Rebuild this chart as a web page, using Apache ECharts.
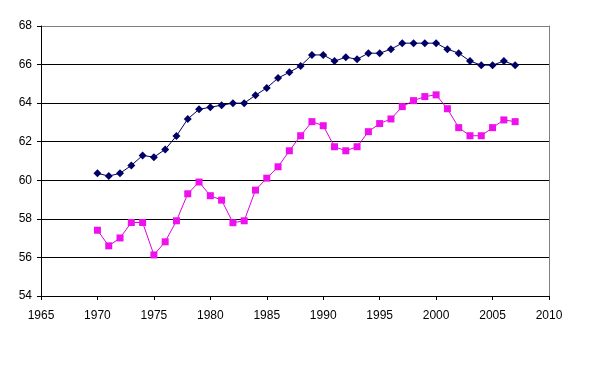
<!DOCTYPE html>
<html><head><meta charset="utf-8">
<script src="https://cdn.jsdelivr.net/npm/echarts@6/dist/echarts.min.js"></script>
<style>html,body{margin:0;padding:0;background:#fff}#c{width:604px;height:373px}</style>
</head><body><div id="c"></div>
<script>
var years = [1970,1971,1972,1973,1974,1975,1976,1977,1978,1979,1980,1981,1982,1983,1984,1985,1986,1987,1988,1989,1990,1991,1992,1993,1994,1995,1996,1997,1998,1999,2000,2001,2002,2003,2004,2005,2006,2007];
var seriesNavy = [60.36,60.22,60.36,60.77,61.29,61.2,61.6,62.3,63.18,63.68,63.79,63.89,64.0,64.0,64.41,64.79,65.3,65.6,65.93,66.5,66.5,66.18,66.38,66.28,66.59,66.59,66.8,67.11,67.11,67.11,67.11,66.8,66.59,66.18,65.97,65.97,66.18,65.97];
var seriesMagenta = [57.41,56.6,57.01,57.81,57.81,56.13,56.81,57.9,59.3,59.91,59.2,58.97,57.8,57.9,59.49,60.11,60.7,61.53,62.31,63.04,62.83,61.74,61.53,61.74,62.52,62.94,63.18,63.82,64.13,64.34,64.43,63.71,62.73,62.31,62.31,62.73,63.13,63.04];
function pairs(v){return years.map(function(y,i){return [y,v[i]];});}
var chart = echarts.init(document.getElementById('c'), null, {renderer:'canvas'});
var font = 'Liberation Sans, Arial, sans-serif';
chart.setOption({
  animation:false,
  backgroundColor:'#fff',
  grid:{left:41,right:55,top:26,bottom:77},
  xAxis:{type:'value',min:1965,max:2010,interval:5,
    axisLine:{show:true,lineStyle:{color:'#000',width:1}},
    axisTick:{show:true,inside:false,length:4,lineStyle:{color:'#000'}},
    axisLabel:{color:'#000',fontSize:12,fontFamily:font,margin:14,formatter:function(v){return String(v);}},
    splitLine:{show:false}},
  yAxis:[{type:'value',min:54,max:68,interval:2,
    axisLine:{show:true,lineStyle:{color:'#000',width:1}},
    axisTick:{show:true,inside:false,length:4,lineStyle:{color:'#000'}},
    axisLabel:{color:'#000',fontSize:12,fontFamily:font,margin:9},
    splitLine:{show:true,lineStyle:{color:['#000','#000','#000','#000','#000','#000','#000','#808080'],width:1}}},
    {type:'value',min:54,max:68,interval:2,position:'right',
    axisLine:{show:true,lineStyle:{color:'#808080',width:1}},
    axisTick:{show:false},axisLabel:{show:false},splitLine:{show:false}}],
  series:[
    {type:'line',data:pairs(seriesNavy),symbol:'diamond',symbolSize:8,
     lineStyle:{color:'#000066',width:1},itemStyle:{color:'#000066'}},
    {type:'line',data:pairs(seriesMagenta),symbol:'rect',symbolSize:7,
     lineStyle:{color:'#e000e0',width:1},itemStyle:{color:'#ee11ee'}}
  ]
});
</script></body></html>
